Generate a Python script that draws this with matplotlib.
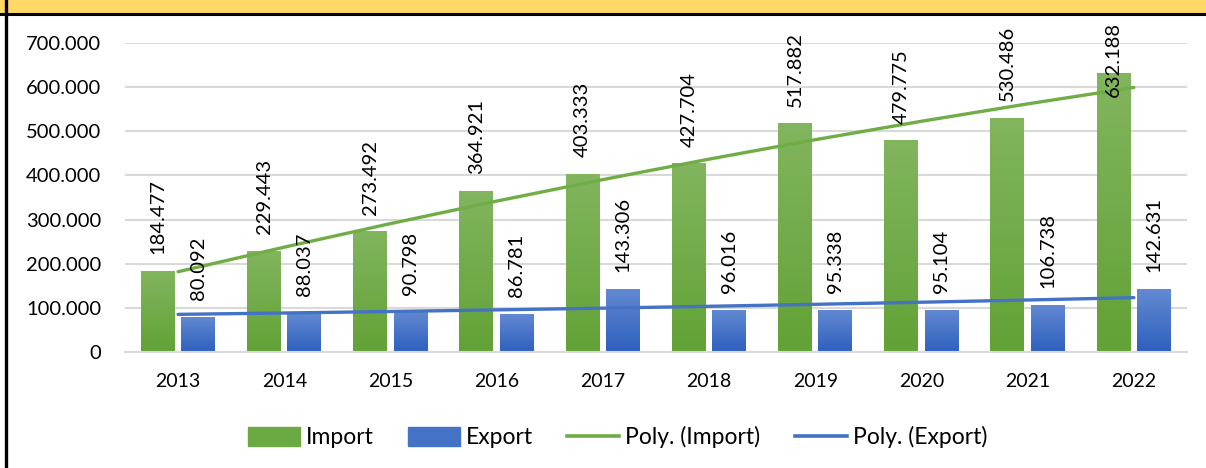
import numpy as np
import matplotlib.pyplot as plt
from matplotlib.patches import Rectangle, Patch
from matplotlib.lines import Line2D
from matplotlib.colors import LinearSegmentedColormap

plt.rcParams['font.family'] = ['Lato', 'DejaVu Sans']

years = ['2013', '2014', '2015', '2016', '2017', '2018', '2019', '2020', '2021', '2022']
imports = [184477, 229443, 273492, 364921, 403333, 427704, 517882, 479775, 530486, 632188]
exports = [80092, 88037, 90798, 86781, 143306, 96016, 95338, 95104, 106738, 142631]


def fmt(v):
    return '{:,}'.format(int(v)).replace(',', '.')


fig = plt.figure(figsize=(12.06, 4.68), dpi=100)
ax = fig.add_axes([0.1036, 0.2479, 0.8806, 0.6603])

x = np.arange(len(years))
w = 0.32
off = 0.19

green_cm = LinearSegmentedColormap.from_list('g', ['#62A236', '#82B55E'])
blue_cm = LinearSegmentedColormap.from_list('b', ['#2E60BE', '#6389D2'])
grad = np.linspace(0, 1, 100).reshape(-1, 1)

bars_i = ax.bar(x - off, imports, w, color='#6BAA42', zorder=2)
bars_e = ax.bar(x + off, exports, w, color='#4472C4', zorder=2)

# gradient fill over each bar
for bars, cm in ((bars_i, green_cm), (bars_e, blue_cm)):
    for b in bars:
        x0, y0 = b.get_x(), b.get_y()
        im = ax.imshow(grad, cmap=cm, origin='lower', aspect='auto',
                       extent=(x0, x0 + b.get_width(), y0, y0 + b.get_height()),
                       zorder=2.5)
        im.set_clip_path(b)

# polynomial (order 2) trend lines
pi = np.polyval(np.polyfit(x, imports, 2), x)
pe = np.polyval(np.polyfit(x, exports, 2), x)
ax.plot(x, pi, color='#70AD47', lw=2.4, zorder=4, solid_capstyle='round')
ax.plot(x, pe, color='#4472C4', lw=2.4, zorder=4, solid_capstyle='round')

# data labels
for i in range(len(years)):
    ax.annotate(fmt(imports[i]), (x[i] - off, min(imports[i], 540000)),
                xytext=(0, 12), textcoords='offset points', rotation=90,
                ha='center', va='bottom', fontsize=14.5, zorder=5)
    ax.annotate(fmt(exports[i]), (x[i] + off, exports[i]),
                xytext=(0, 12), textcoords='offset points', rotation=90,
                ha='center', va='bottom', fontsize=14.5, zorder=5)

ax.set_xlim(-0.5, len(years) - 0.5)
ax.set_ylim(0, 700000)
ax.set_yticks(np.arange(0, 700001, 100000))
ax.set_yticklabels([fmt(v) for v in np.arange(0, 700001, 100000)])
ax.set_xticks(x)
ax.set_xticklabels(years)
ax.tick_params(axis='y', length=0, pad=17, labelsize=14.5)
ax.tick_params(axis='x', length=0, pad=15, labelsize=14)
ax.grid(axis='y', color='#D9D9D9', lw=1.5, zorder=0)
ax.set_axisbelow(True)
for s in ['top', 'right', 'left']:
    ax.spines[s].set_visible(False)
ax.spines['bottom'].set_color('#D9D9D9')
ax.spines['bottom'].set_linewidth(1.5)

handles = [Patch(color='#6BAA42'), Patch(color='#4472C4'),
           Line2D([], [], color='#70AD47', lw=2.6),
           Line2D([], [], color='#4472C4', lw=2.6)]
labels = ['Import', 'Export', 'Poly. (Import)', 'Poly. (Export)']
fig.legend(handles, labels, loc='center', bbox_to_anchor=(0.512, 0.066), ncol=4,
           frameon=False, fontsize=16.5, handlelength=2.27, handleheight=0.87,
           handletextpad=0.26, columnspacing=1.5)

# yellow title band and frame lines (title text cut off in the source)
fig.patches.append(Rectangle((0, 1 - 13 / 468), 1, 13 / 468, transform=fig.transFigure,
                             facecolor='#FFD966', edgecolor='none', zorder=10))
fig.lines.append(Line2D([0, 1], [1 - 13.5 / 468] * 2, transform=fig.transFigure,
                        color='black', lw=2.2, zorder=11))
fig.lines.append(Line2D([6 / 1206] * 2, [0, 1], transform=fig.transFigure,
                        color='black', lw=2.4, zorder=11))

fig.savefig('out.png', dpi=100)
